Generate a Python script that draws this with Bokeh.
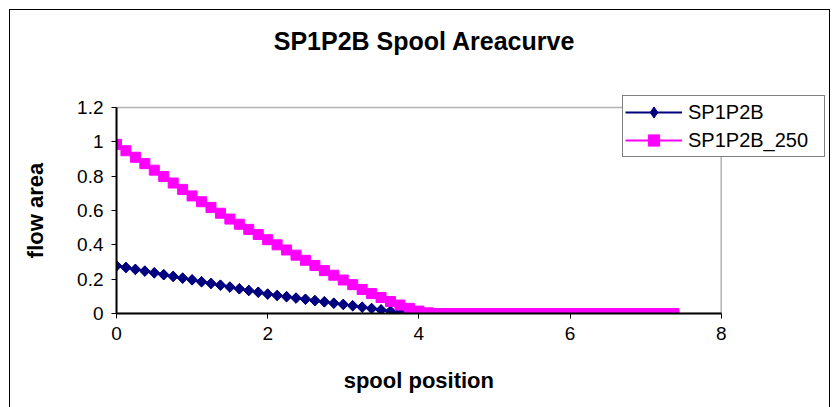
import math
from bokeh.plotting import figure
from bokeh.models import (Range1d, FixedTicker, Label, Legend, LegendItem,
                          LinearAxis, BoxAnnotation)
from bokeh.embed import file_html
from bokeh.resources import INLINE

title_text = "SP1P2B Spool Areacurve"
x_title = "spool position"
y_title = "flow area"

spool_position = [
    0.0, 0.125, 0.25, 0.375, 0.5, 0.625, 0.75, 0.875, 1.0, 1.125,
    1.25, 1.375, 1.5, 1.625, 1.75, 1.875, 2.0, 2.125, 2.25, 2.375,
    2.5, 2.625, 2.75, 2.875, 3.0, 3.125, 3.25, 3.375, 3.5, 3.625,
    3.75, 3.875, 4.0, 4.125, 4.25, 4.375, 4.5, 4.625, 4.75, 4.875,
    5.0, 5.125, 5.25, 5.375, 5.5, 5.625, 5.75, 5.875, 6.0, 6.125,
    6.25, 6.375, 6.5, 6.625, 6.75, 6.875, 7.0, 7.125, 7.25, 7.375,
]

sp1p2b = [
    0.278, 0.268, 0.257, 0.247, 0.237, 0.226, 0.216, 0.206, 0.196, 0.185,
    0.175, 0.165, 0.154, 0.144, 0.134, 0.124, 0.113, 0.105, 0.098, 0.090,
    0.083, 0.075, 0.068, 0.060, 0.053, 0.045, 0.037, 0.029, 0.021, 0.013,
    0.007, 0.002, 0.0, 0.0, 0.0, 0.0, 0.0, 0.0, 0.0, 0.0,
    0.0, 0.0, 0.0, 0.0, 0.0, 0.0, 0.0, 0.0, 0.0, 0.0,
    0.0, 0.0, 0.0, 0.0, 0.0, 0.0, 0.0, 0.0, 0.0, 0.0,
]

sp1p2b_250 = [
    0.985, 0.948, 0.910, 0.873, 0.835, 0.798, 0.760, 0.723, 0.685, 0.651,
    0.618, 0.584, 0.550, 0.520, 0.490, 0.460, 0.430, 0.400, 0.370, 0.340,
    0.310, 0.280, 0.250, 0.223, 0.195, 0.168, 0.140, 0.116, 0.093, 0.070,
    0.049, 0.030, 0.014, 0.004, 0.0, 0.0, 0.0, 0.0, 0.0, 0.0,
    0.0, 0.0, 0.0, 0.0, 0.0, 0.0, 0.0, 0.0, 0.0, 0.0,
    0.0, 0.0, 0.0, 0.0, 0.0, 0.0, 0.0, 0.0, 0.0, 0.0,
]

x_ticks = [0, 2, 4, 6, 8]
y_ticks = [0, 0.2, 0.4, 0.6, 0.8, 1.0, 1.2]
y_tick_labels = ["0", "0.2", "0.4", "0.6", "0.8", "1", "1.2"]
x_min, x_max = 0, 8
y_min, y_max = 0, 1.2

FONT = "Liberation Sans"
NAVY = "#000080"
MAGENTA = "#FF00FF"

# The frame reaches past the plot area (right and top) so that the legend and
# title, which Excel draws over the plot-area border, are not clipped.
p = figure(
    frame_width=713, frame_height=303,
    output_backend="svg", toolbar_location=None,
    x_range=Range1d(0, 9.433), y_range=Range1d(0, 1.765),
    min_border_left=106, min_border_right=0,
    min_border_top=0, min_border_bottom=94,
    styles={"margin-left": "9px", "margin-top": "9px",
            "border-left": "1px solid black", "border-top": "1px solid black",
            "border-right": "1px solid black"},
)
p.title.visible = False
p.grid.visible = False
p.background_fill_color = "white"
p.border_fill_color = "white"
p.outline_line_color = None

for ax in (p.xaxis[0], p.yaxis[0]):
    ax.axis_line_color = "black"
    ax.axis_line_width = 2
    ax.major_tick_line_color = "black"
    ax.major_tick_line_width = 1
    ax.major_tick_out = 5
    ax.major_tick_in = 0
    ax.minor_tick_line_color = None
    ax.major_label_text_font = FONT
    ax.major_label_text_font_size = "19px"
    ax.major_label_text_color = "black"

p.xaxis.ticker = FixedTicker(ticks=x_ticks)
p.yaxis.ticker = FixedTicker(ticks=y_ticks)
p.xaxis.bounds = (x_min, x_max)
p.yaxis.bounds = (y_min, y_max)
p.yaxis.major_label_overrides = dict(zip(y_ticks, y_tick_labels))
p.xaxis.major_label_standoff = 8
p.yaxis.major_label_standoff = 8

# plot-area border
p.add_layout(BoxAnnotation(left=x_min, right=x_max, bottom=y_min, top=y_max,
                           fill_color=None, line_color="black", line_width=1.5))

# axis titles as extra axes carrying one labelled tick at the middle
x_title_axis = LinearAxis(ticker=FixedTicker(ticks=[4]),
                          major_label_overrides={4: x_title},
                          axis_line_color=None, major_tick_line_color=None,
                          minor_tick_line_color=None, major_tick_out=0, major_tick_in=0,
                          major_label_standoff=25,
                          major_label_text_font=FONT, major_label_text_font_size="22px",
                          major_label_text_font_style="bold",
                          major_label_text_color="black")
p.add_layout(x_title_axis, "below")
y_title_axis = LinearAxis(ticker=FixedTicker(ticks=[0.6]),
                          major_label_overrides={0.6: y_title},
                          major_label_orientation="vertical",
                          axis_line_color=None, major_tick_line_color=None,
                          minor_tick_line_color=None, major_tick_out=0, major_tick_in=0,
                          major_label_standoff=26,
                          major_label_text_font=FONT, major_label_text_font_size="22px",
                          major_label_text_font_style="bold",
                          major_label_text_color="black")
p.add_layout(y_title_axis, "left")

l1 = p.line(spool_position, sp1p2b, line_color=NAVY, line_width=2)
# diamond marker (used for the legend key; covered by the rotated squares below)
s1_key = p.scatter(spool_position, sp1p2b, marker="diamond", size=10,
                   fill_color=NAVY, line_color=NAVY)
s1 = p.scatter(spool_position, sp1p2b, marker="square", angle=math.pi / 4, size=7.5,
               fill_color=NAVY, line_color=NAVY)
l2 = p.line(spool_position, sp1p2b_250, line_color=MAGENTA, line_width=2)
s2 = p.scatter(spool_position, sp1p2b_250, marker="square", size=10,
               fill_color=MAGENTA, line_color=MAGENTA)

legend = Legend(
    items=[LegendItem(label="SP1P2B", renderers=[l1, s1_key]),
           LegendItem(label="SP1P2B_250", renderers=[l2, s2])],
    location=(506, 156),
    border_line_color="black", border_line_width=1,
    background_fill_color="white", background_fill_alpha=1,
    label_text_font=FONT, label_text_font_size="20px", label_text_color="black",
    glyph_width=57, glyph_height=28, label_standoff=6,
    padding=2, spacing=0, margin=0, label_width=134,
)
p.add_layout(legend, "center")

p.add_layout(Label(x=308, y=273, x_units="screen", y_units="screen", text=title_text,
                   text_font=FONT, text_font_size="25px", text_font_style="bold",
                   text_color="black",
                   text_align="center", text_baseline="middle"))

open("out.html", "w").write(file_html(p, INLINE))
